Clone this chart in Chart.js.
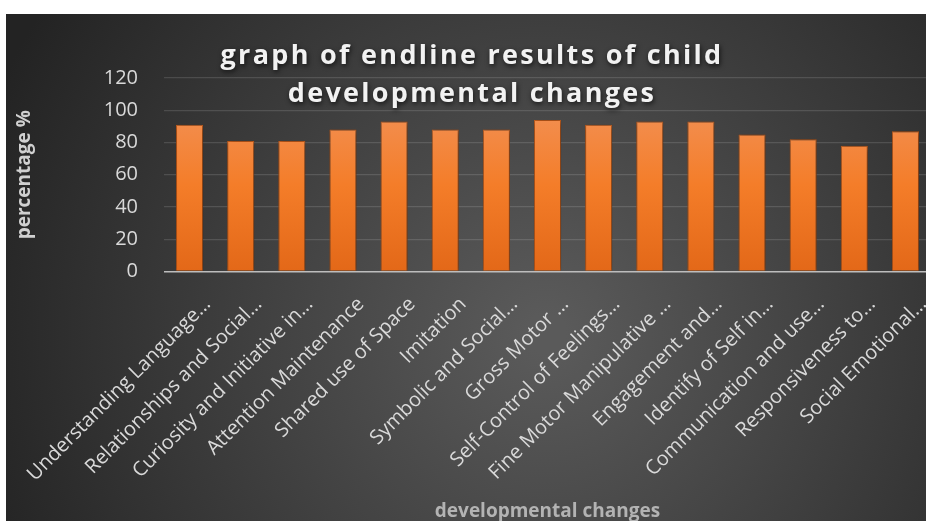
<!DOCTYPE html>
<html>
<head>
<meta charset="utf-8">
<script src="https://cdn.jsdelivr.net/npm/chart.js@4.4.1/dist/chart.umd.min.js"></script>
<style>
  html, body { margin: 0; padding: 0; background: #fff; overflow: hidden; }
  #wrap { position: absolute; left: 6px; top: 14px; width: 925px; height: 507px; }
</style>
</head>
<body>
<div id="wrap"><canvas id="chart" width="925" height="507"></canvas></div>
<script>
// chart data
var categories = [
    'Understanding Language…',
    'Relationships and Social…',
    'Curiosity and Initiative in…',
    'Attention Maintenance',
    'Shared use of Space',
    'Imitation',
    'Symbolic and Social…',
    'Gross Motor …',
    'Self-Control of Feelings…',
    'Fine Motor Manipulative …',
    'Engagement and…',
    'Identify of Self in…',
    'Communication and use…',
    'Responsiveness to…',
    'Social Emotional…'
];
var values = [91, 81, 81, 88, 93, 88, 88, 94, 91, 93, 93, 85, 82, 78, 87];
var yTicks = [0, 20, 40, 60, 80, 100, 120];
var titleLines = ['graph of endline results of child', 'developmental changes'];

// dark radial background + title drawn over the plot
var decor = {
    id: 'decor',
    beforeDraw: function(chart) {
        var ctx = chart.ctx;
        var g = ctx.createRadialGradient(540, 320, 20, 540, 320, 600);
        g.addColorStop(0, '#5a5a5a');
        g.addColorStop(1, '#232323');
        ctx.save();
        ctx.fillStyle = g;
        ctx.fillRect(0, 0, chart.width, chart.height);
        ctx.restore();
    },
    beforeDatasetsDraw: function(chart) {
        chart.ctx.save();
        chart.ctx.shadowColor = 'rgba(0,0,0,0.55)';
        chart.ctx.shadowBlur = 6;
        chart.ctx.shadowOffsetX = 1;
        chart.ctx.shadowOffsetY = 1;
    },
    afterDatasetsDraw: function(chart) {
        chart.ctx.restore();
    },
    afterDraw: function(chart) {
        var ctx = chart.ctx;
        ctx.save();
        ctx.font = 'bold 27px "Open Sans"';
        ctx.letterSpacing = '2.3px';
        ctx.fillStyle = '#f2f2f2';
        ctx.textAlign = 'center';
        ctx.textBaseline = 'alphabetic';
        ctx.shadowColor = 'rgba(0,0,0,0.7)';
        ctx.shadowBlur = 5;
        ctx.shadowOffsetX = 1;
        ctx.shadowOffsetY = 2;
        ctx.fillText(titleLines[0], 466, 50);
        ctx.fillText(titleLines[1], 466, 88);
        ctx.restore();
    }
};

var ctx = document.getElementById('chart').getContext('2d');
new Chart(ctx, {
    type: 'bar',
    data: {
        labels: categories,
        datasets: [{
            label: 'percentage',
            data: values,
            backgroundColor: function(c) {
                var area = c.chart.chartArea;
                if (!area) return '#f47e2b';
                var g = c.chart.ctx.createLinearGradient(0, area.top + 20, 0, area.bottom);
                g.addColorStop(0, '#f29258');
                g.addColorStop(0.5, '#f47d29');
                g.addColorStop(1, '#e36818');
                return g;
            },
            borderColor: '#c75e1c',
            borderWidth: 1,
            barPercentage: 0.53,
            categoryPercentage: 1
        }]
    },
    options: {
        responsive: false,
        animation: false,
        layout: { padding: { top: 64, right: 0, left: 0, bottom: 0 } },
        plugins: {
            legend: { display: false },
            tooltip: { enabled: false }
        },
        scales: {
            x: {
                grid: { display: false },
                border: { display: false },
                ticks: {
                    autoSkip: false,
                    minRotation: 45,
                    maxRotation: 45,
                    labelOffset: 18,
                    padding: 13,
                    color: '#d9d9d9',
                    font: { family: 'Open Sans', size: 20 }
                },
                title: {
                    display: true,
                    text: 'developmental changes',
                    color: '#b3b3b3',
                    padding: 0,
                    font: { family: 'Open Sans', size: 19, weight: 'bold', lineHeight: 1 }
                },
                afterFit: function(s) {
                    s.height = 249.5;
                    s.paddingRight = 0;
                    s.paddingLeft = 0;
                }
            },
            y: {
                min: 0,
                max: 120,
                afterBuildTicks: function(s) {
                    s.ticks = yTicks.map(function(v) { return { value: v }; });
                },
                grid: {
                    drawTicks: false,
                    lineWidth: function(c) { return c.tick && c.tick.value === 0 ? 1.6 : 1.2; },
                    color: function(c) { return c.tick && c.tick.value === 0 ? '#bdbdbd' : 'rgba(255,255,255,0.13)'; }
                },
                border: { display: false },
                ticks: {
                    padding: 26,
                    color: '#d9d9d9',
                    font: { family: 'Open Sans', size: 20 }
                },
                title: {
                    display: true,
                    text: 'percentage %',
                    color: '#d0d0d0',
                    padding: { top: 7, bottom: 0 },
                    font: { family: 'Open Sans', size: 19, weight: 'bold' }
                },
                afterFit: function(s) {
                    s.width = 158;
                }
            }
        }
    },
    plugins: [decor]
});
</script>
</body>
</html>
